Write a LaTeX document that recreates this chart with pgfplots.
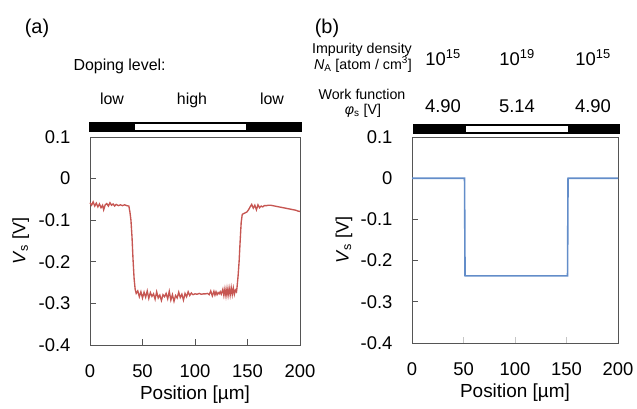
\documentclass[border=0pt]{standalone}
\usepackage{fontspec}
\setmainfont{Liberation Sans}
\usepackage{pgfplots}
\pgfplotsset{compat=1.18}
\definecolor{redline}{RGB}{198,86,82}
\definecolor{blueline}{RGB}{99,141,201}
\definecolor{framec}{RGB}{85,85,85}

\pgfplotsset{panel/.style={
  width=208bp, height=208bp, scale only axis,
  xmin=0, xmax=200, ymin=-0.4, ymax=0.1,
  xtick={0,50,100,150,200}, ytick={-0.4,-0.3,-0.2,-0.1,0,0.1},
  axis line style={framec, line width=1bp},
  tick align=inside, major tick length=6bp,
  xtick pos=left, ytick pos=left,
  tick style={framec, line width=0.9bp},
  ticklabel style={font=\fontsize{18.5}{20}\selectfont},
  /pgf/number format/assume math mode=true,
  yticklabel style={/pgf/number format/fixed, xshift=-16bp},
  xticklabel style={yshift=-16bp},
  xlabel={Position [µm]},
  xlabel style={font=\fontsize{19}{21}\selectfont, at={(axis description cs:0.5,-0.24)}, anchor=center},
  ylabel={\textit{V}\textsubscript{s} [V]},
  ylabel style={font=\fontsize{18}{20}\selectfont, at={(axis description cs:-0.33,0.5)}, anchor=center},
  clip=false,
}}

\begin{document}
\begin{tikzpicture}
\path[use as bounding box] (0,0) rectangle (637bp,-409bp);

% (a) measured potential
\begin{axis}[panel, width=210bp, at={(90bp,-345bp)}, anchor=south west]
\addplot[redline, line width=1.35bp] coordinates {
(0,-0.058) (1.5,-0.064) (3,-0.056) (4.5,-0.066) (6,-0.059) (7.5,-0.068) (9,-0.061) (10.5,-0.070)
(12,-0.064) (13,-0.075) (14.5,-0.063) (16,-0.060) (17.5,-0.066) (19,-0.058) (20.5,-0.064) (22,-0.061)
(23.5,-0.066) (25,-0.062) (27,-0.065) (29,-0.063) (31,-0.065) (33,-0.063) (35,-0.065) (37,-0.066)
(38,-0.080) (39,-0.100) (40,-0.140) (41,-0.195) (42,-0.240) (43,-0.266) (44,-0.276)
(45.5,-0.270) (47,-0.284) (48.5,-0.272) (50,-0.287) (51.5,-0.273) (53,-0.285) (54.5,-0.270) (56,-0.288)
(57.5,-0.274) (59,-0.283) (60.5,-0.277) (62,-0.290) (63.5,-0.272) (65,-0.287) (66.5,-0.280) (68,-0.293)
(69.5,-0.279) (71,-0.284) (72.5,-0.276) (74,-0.289) (75.5,-0.271) (77,-0.292) (78.5,-0.279) (80,-0.295)
(81.5,-0.281) (83,-0.287) (84.5,-0.273) (86,-0.286) (87.5,-0.278) (89,-0.292) (90.5,-0.276) (92,-0.284)
(93.5,-0.272) (95,-0.281) (96.5,-0.275) (98,-0.279) (100,-0.277) (102,-0.278) (104,-0.276) (106,-0.278)
(108,-0.277) (110,-0.277) (112,-0.276) (113.5,-0.279) (115,-0.270) (116.5,-0.282) (118,-0.271) (119,-0.280)
(120,-0.272) (121,-0.279) (122,-0.274) (123,-0.277) (124,-0.272) (125,-0.278) (126.5,-0.266) (127.5,-0.281)
(128.5,-0.265) (129.5,-0.282) (130.5,-0.264) (131.5,-0.281) (132.5,-0.263) (133.5,-0.280) (134.5,-0.262) (135.5,-0.279)
(136.5,-0.263) (137.5,-0.278) (138.5,-0.268) (139.5,-0.272)
(140,-0.262) (141,-0.235) (142,-0.200) (143,-0.150) (144,-0.105) (145,-0.086) (146.5,-0.084) (148,-0.082)
(149.5,-0.080) (151,-0.075) (152.5,-0.068) (154,-0.062) (155.5,-0.071) (157,-0.064) (158.5,-0.075) (160,-0.063)
(161.5,-0.070) (163,-0.066) (164.5,-0.068) (166,-0.065) (168,-0.065) (170,-0.064) (172,-0.064) (174,-0.065)
(176,-0.066) (178,-0.067) (180,-0.068) (182,-0.069) (184,-0.070) (186,-0.071) (188,-0.072) (190,-0.073)
(192,-0.074) (194,-0.075) (196,-0.076) (198,-0.078) (200,-0.079)
};
\end{axis}

% (b) calculated potential
\begin{axis}[panel, width=206bp, height=206bp, at={(412bp,-343bp)}, anchor=south west,
  every x tick/.append style={gray!45}]
\addplot[blueline, line width=1.6bp] coordinates {
(0,0) (51,0) (51.5,-0.237) (151,-0.237) (151.5,0) (200,0)
};
\end{axis}

% doping bars
\fill[black] (89bp,-122bp) rectangle (302bp,-132bp);
\fill[white] (135bp,-124bp) rectangle (246bp,-130bp);
\fill[black] (413bp,-124bp) rectangle (620bp,-134bp);
\fill[white] (466bp,-126bp) rectangle (568bp,-132bp);

% annotations (a)
\node[font=\fontsize{20}{22}\selectfont, anchor=base] at (37bp,-33bp) {(a)};
\node[font=\fontsize{16}{18}\selectfont, anchor=base west] at (70bp,-70bp) {Doping level:};
\begin{scope}[every node/.style={font=\fontsize{16}{18}\selectfont, anchor=base}]
\node at (112bp,-104bp) {low};
\node at (192bp,-104bp) {high};
\node at (272bp,-104bp) {low};
\end{scope}

% annotations (b)
\node[font=\fontsize{20}{22}\selectfont, anchor=base] at (327bp,-33bp) {(b)};
\begin{scope}[every node/.style={font=\fontsize{14.3}{15}\selectfont, anchor=base, inner sep=1bp}]
\node at (362bp,-53bp) {Impurity density};
\node at (363bp,-69bp) {\textit{N}\textsubscript{A} [atom / cm\textsuperscript{3}]};
\node at (362bp,-99bp) {Work function};
\node at (363bp,-114bp) {\textit{φ}\textsubscript{s} [V]};
\end{scope}
\begin{scope}[every node/.style={font=\fontsize{18.5}{20}\selectfont, anchor=base}]
\node at (443bp,-65bp) {10\textsuperscript{15}};
\node at (517bp,-65bp) {10\textsuperscript{19}};
\node at (593bp,-65bp) {10\textsuperscript{15}};
\node at (443bp,-112bp) {4.90};
\node at (517bp,-112bp) {5.14};
\node at (593bp,-112bp) {4.90};
\end{scope}
\end{tikzpicture}
\end{document}
